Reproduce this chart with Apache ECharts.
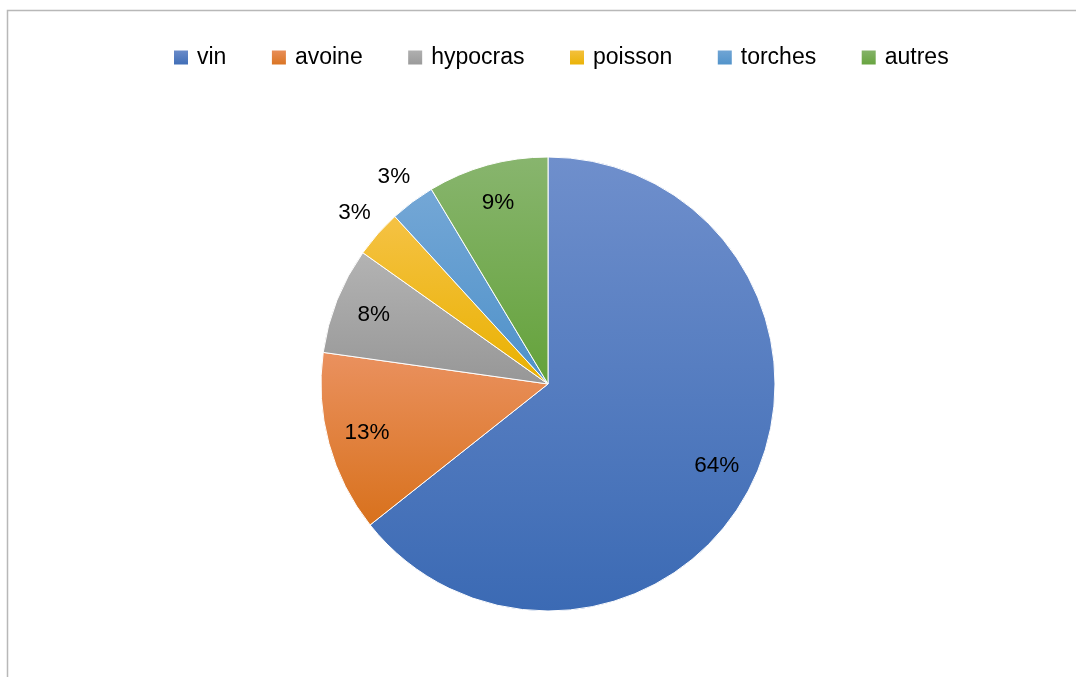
<!DOCTYPE html>
<html>
<head>
<meta charset="utf-8">
<script src="https://cdn.jsdelivr.net/npm/echarts@6/dist/echarts.min.js"></script>
<style>
html,body{margin:0;padding:0;background:#fff;}
#main{width:1076px;height:677px;}
</style>
</head>
<body>
<div id="main"></div>
<script>
const categories = ['vin', 'avoine', 'hypocras', 'poisson', 'torches', 'autres'];
const values = [64.4, 12.9, 7.6, 3.4, 3.2, 8.6];
const topColors = ['#6f8fcc', '#ea915f', '#b3b3b3', '#f5c244', '#74a7d6', '#88b56e'];
const bottomColors = ['#3b6ab4', '#d8711c', '#979797', '#e9b100', '#4e91c9', '#64a23a'];

const chart = echarts.init(document.getElementById('main'));
const FONT = 'Liberation Sans';
const center = [548, 384];
const R = 227;
const total = values.reduce((a, b) => a + b, 0);
const isSmall = v => v / total * 100 < 5;

function grad(i) {
  return new echarts.graphic.LinearGradient(0, 0, 0, 1, [
    { offset: 0, color: topColors[i] },
    { offset: 1, color: bottomColors[i] }
  ]);
}

const mainData = categories.map((c, i) => ({
  name: c, value: values[i],
  itemStyle: { color: grad(i) }
}));

const fmt = p => Math.round(p.percent) + '%';
const labelStyle = { fontFamily: FONT, fontSize: 22.5, color: '#000' };

const insideData = categories.map((c, i) => ({
  name: c, value: values[i],
  label: { show: !isSmall(values[i]) }
}));
const outsideData = categories.map((c, i) => ({
  name: c, value: values[i],
  label: { show: isSmall(values[i]) }
}));

chart.setOption({
  animation: false,
  backgroundColor: '#fff',
  graphic: [{
    type: 'rect',
    shape: { x: 7.5, y: 10.5, width: 1200, height: 800 },
    style: { fill: 'none', stroke: '#b8b8b8', lineWidth: 1.5 },
    silent: true, z: 100
  }],
  legend: {
    data: categories.map((c, i) => ({ name: c, itemStyle: { color: grad(i) } })),
    left: 172, top: 46, padding: 0,
    itemWidth: 16, itemHeight: 16, itemGap: 43.5,
    icon: 'rect',
    textStyle: { fontFamily: FONT, fontSize: 23, color: '#000', padding: [0, 0, 0, 3] }
  },
  series: [
    {
      type: 'pie', name: 'main', center: center, radius: [0, R],
      startAngle: 90, clockwise: true,
      itemStyle: { borderColor: '#fff', borderWidth: 1 },
      label: { show: false }, labelLine: { show: false },
      emphasis: { disabled: true },
      data: mainData, z: 2
    },
    {
      type: 'pie', name: 'inLabels', center: center, radius: [142, R],
      startAngle: 90, clockwise: true, silent: true,
      itemStyle: { color: 'rgba(0,0,0,0)' },
      label: Object.assign({ position: 'inside', formatter: fmt }, labelStyle),
      labelLine: { show: false },
      emphasis: { disabled: true },
      data: insideData, z: 3
    },
    {
      type: 'pie', name: 'outLabels', center: center, radius: [R, 283],
      startAngle: 90, clockwise: true, silent: true,
      itemStyle: { color: 'rgba(0,0,0,0)' },
      label: Object.assign({ position: 'inside', formatter: fmt }, labelStyle),
      labelLine: { show: false },
      emphasis: { disabled: true },
      data: outsideData, z: 3
    }
  ]
});
</script>
</body>
</html>
